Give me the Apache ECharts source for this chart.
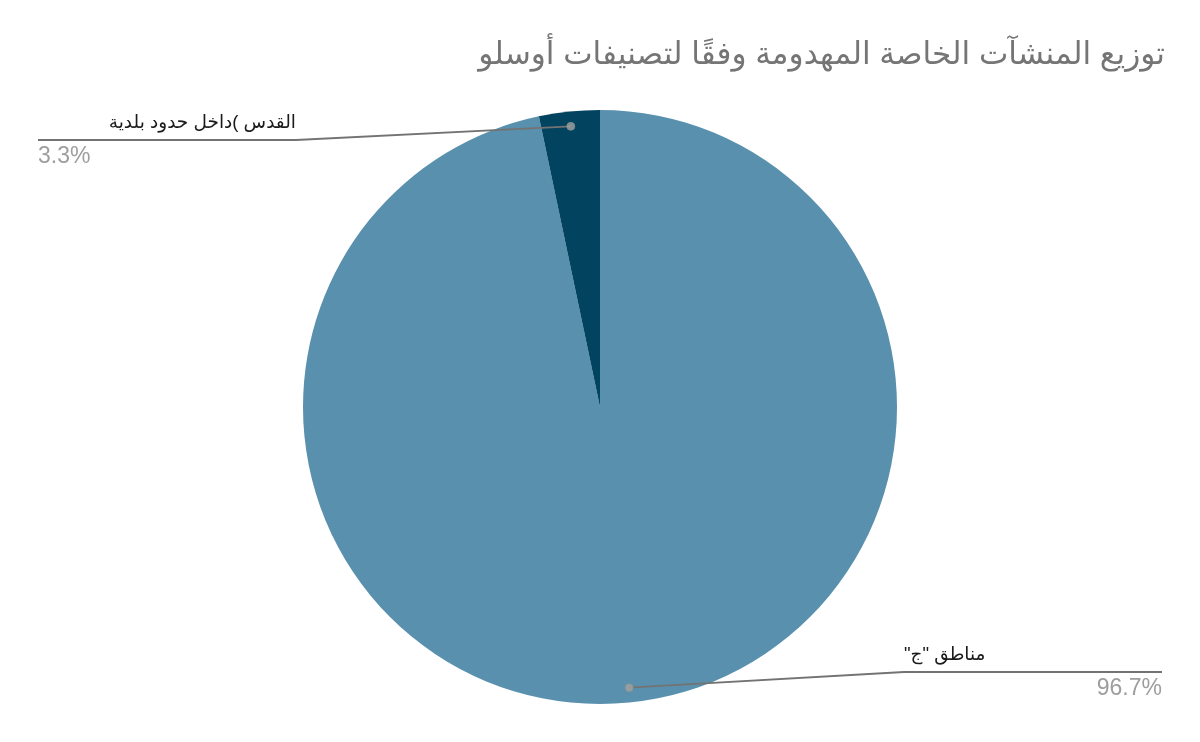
<!DOCTYPE html>
<html>
<head>
<meta charset="utf-8">
<script src="https://cdn.jsdelivr.net/npm/echarts@6/dist/echarts.min.js"></script>
<style>
  html, body { margin: 0; padding: 0; background: #ffffff; }
  #chart { width: 1200px; height: 742px; }
</style>
</head>
<body>
<div id="chart"></div>
<script>
// ---- data ----
const titleText = 'توزيع المنشآت الخاصة المهدومة وفقًا لتصنيفات أوسلو';
const categories = ['مناطق "ج"', 'القدس (داخل حدود بلدية'];
const values = [96.7, 3.3];
const colors = ['#5890ae', '#02435f'];

// ---- layout constants ----
const CX = 600, CY = 407, R = 297;
const DOT_R = 0.95;            // dot sits at 95% of radius
const LEFT_EDGE = 38, RIGHT_EDGE = 1162, LABEL_W = 258;
const LEFT_Y = 140, RIGHT_Y = 672;
const FONT = 'Arial, "Liberation Sans", "DejaVu Sans", sans-serif';

// render as an RTL isolate; keep the parenthesis unmirrored as in the reference
function rtlVisual(s) {
  return '\u2067' + s.replace(/\(/g, '\u200E(\u200E') + '\u2069';
}

const total = values.reduce((a, b) => a + b, 0);
// cumulative mid positions (in percent of the circle) for the dots
let acc = 0;
const mids = values.map(v => { const m = acc + v / 2; acc += v; return (m / total) * 100; });

const pieData = categories.map((c, i) => ({ name: c, value: values[i], itemStyle: { color: colors[i] } }));
const labelData = categories.map((c, i) => ({
  name: c, value: values[i],
  label: {
    rich: {
      name: { align: (mids[i] > 50) ? 'right' : 'left' },
      pct: { align: (mids[i] > 50) ? 'left' : 'right' }
    }
  }
}));
const dotData = mids.map(m => [DOT_R, m]);

const chart = echarts.init(document.getElementById('chart'), null, { renderer: 'canvas' });
chart.setOption({
  backgroundColor: '#ffffff',
  animation: false,
  title: {
    text: titleText,
    right: 30,
    top: 35,
    textStyle: { fontFamily: FONT, fontSize: 31.2, fontWeight: 'normal', color: '#757575' }
  },
  polar: { center: [CX, CY], radius: R },
  angleAxis: { type: 'value', min: 0, max: 100, startAngle: 90, clockwise: true, show: false },
  radiusAxis: { type: 'value', min: 0, max: 1, show: false },
  series: [
    {
      type: 'pie',
      z: 2,
      center: [CX, CY],
      radius: [0, R],
      startAngle: 90,
      clockwise: true,
      silent: true,
      data: pieData,
      itemStyle: { borderWidth: 0 },
      label: { show: false },
      labelLine: { show: false }
    },
    {
      // transparent overlay pie that carries labels and leader lines above the slices
      type: 'pie',
      z: 4,
      center: [CX, CY],
      radius: [0, R],
      startAngle: 90,
      clockwise: true,
      avoidLabelOverlap: false,
      silent: true,
      data: labelData,
      itemStyle: { color: 'rgba(0,0,0,0)', borderWidth: 0 },
      label: {
        show: true,
        position: 'outside',
        width: LABEL_W,
        formatter: function (p) {
          return '{name|' + rtlVisual(p.name) + '}\n{pct|' + p.percent.toFixed(1) + '%}';
        },
        rich: {
          name: { fontFamily: FONT, fontSize: 18.5, color: '#1a1a1a', lineHeight: 34 },
          pct: { fontFamily: FONT, fontSize: 23, color: '#9e9e9e', lineHeight: 34 }
        }
      },
      labelLine: { show: true, length: 10, length2: 10, lineStyle: { color: '#737373', width: 1.8 } },
      labelLayout: function (params) {
        const p0 = params.labelLinePoints[0];
        const dot = [CX + DOT_R * (p0[0] - CX), CY + DOT_R * (p0[1] - CY)];
        const left = p0[0] < CX;
        const y = left ? LEFT_Y : RIGHT_Y;
        const x = left ? LEFT_EDGE : RIGHT_EDGE - LABEL_W;
        const elbow = left ? LEFT_EDGE + LABEL_W : RIGHT_EDGE - LABEL_W;
        const edge = left ? LEFT_EDGE : RIGHT_EDGE;
        return {
          x: x, y: y, align: 'left', verticalAlign: 'middle',
          labelLinePoints: [dot, [elbow, y], [edge, y]]
        };
      }
    },
    {
      type: 'scatter',
      coordinateSystem: 'polar',
      silent: true,
      symbol: 'circle',
      symbolSize: 8,
      z: 6,
      itemStyle: { color: '#a3a3a3', borderColor: '#8f8f8f', borderWidth: 0.8 },
      data: dotData
    }
  ]
});
</script>
</body>
</html>
